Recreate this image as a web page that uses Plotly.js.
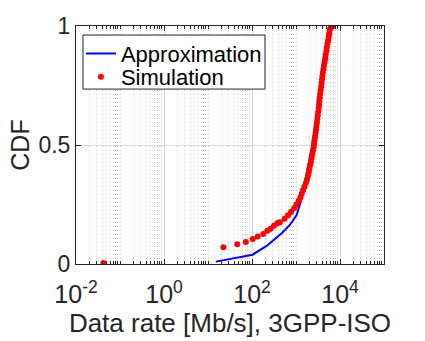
<!DOCTYPE html>
<html>
<head>
<meta charset="utf-8">
<script src="https://cdn.plot.ly/plotly-3.0.1.min.js"></script>
<style>
  html, body { margin: 0; padding: 0; background: #fff; }
  #chart { width: 425px; height: 341px; }
</style>
</head>
<body>
<div id="chart"></div>
<script>
// Approximation curve (blue line): data rate in Mb/s, CDF
const approxRate = [15.1, 103, 214, 473, 724, 1035, 1349, 1585, 1905, 2290, 2818, 3467, 4467, 5248, 5754];
const approxCdf  = [0.01, 0.039, 0.076, 0.129, 0.164, 0.206, 0.276, 0.339, 0.409, 0.49, 0.60, 0.72, 0.85, 0.95, 1.0];

// Simulation samples (red dots)
const simRate = [
    0.042, 22.4, 46.2, 72.4, 104, 135, 181, 223, 266, 316, 376,
    432, 550, 661, 776, 912, 1023, 1148, 1259, 1349, 1445, 1549, 1679, 1778, 1862, 1950,
    2018, 2089, 2188, 2265, 2344, 2427, 2512, 2570, 2630, 2723, 2786, 2851, 2917, 2985,
    3055, 3126, 3199, 3273, 3350, 3388, 3467, 3548, 3631, 3715, 3802, 3890, 3981, 4074,
    4217, 4315, 4467, 4624, 4732, 4898, 5012, 5188, 5370, 5559, 5689, 5888, 6310, 6918
];
const simCdf = [
    0.004, 0.070, 0.083, 0.092, 0.105, 0.116, 0.126, 0.140, 0.148, 0.161, 0.171,
    0.175, 0.19, 0.205, 0.22, 0.235, 0.25, 0.265, 0.28, 0.295, 0.31, 0.325, 0.34, 0.355, 0.37, 0.385,
    0.40, 0.415, 0.43, 0.445, 0.46, 0.475, 0.49, 0.505, 0.52, 0.535, 0.55, 0.565, 0.58, 0.595,
    0.61, 0.625, 0.64, 0.655, 0.67, 0.685, 0.70, 0.715, 0.73, 0.745, 0.76, 0.775, 0.79, 0.805,
    0.82, 0.835, 0.85, 0.865, 0.88, 0.895, 0.91, 0.925, 0.94, 0.955, 0.97, 0.985, 0.995, 1.0
];

const xTickVals = [0.01, 1, 100, 10000];
const xTickText = ['10<sup>-2</sup>', '10<sup>0</sup>', '10<sup>2</sup>', '10<sup>4</sup>'];
const yTickVals = [0, 0.5, 1];
const yTickText = ['0', '0.5', '1'];

// minor log grid: 1..9 x every decade (skip the labelled decades)
const minorVals = [];
for (let e = -2; e < 5; e++) {
    for (let m = 1; m <= 9; m++) {
        if (m === 1 && e % 2 === 0) continue;
        minorVals.push(m * Math.pow(10, e));
    }
}

const ink = '#262626';
const fontFam = 'Liberation Sans, Arial, Helvetica, sans-serif';

const traces = [
    {
        x: approxRate,
        y: approxCdf,
        name: 'Approximation',
        type: 'scatter',
        mode: 'lines',
        line: { color: '#0000ff', width: 2 },
        legend: 'legend'
    },
    {
        x: simRate,
        y: simCdf,
        name: 'Simulation',
        type: 'scatter',
        mode: 'markers',
        marker: { color: '#ff0000', size: 6 },
        legend: 'legend2'
    }
];

// one legend per entry so the row spacing can follow the reference
const legendStyle = (top) => ({
    x: 0.016, y: top, xanchor: 'left', yanchor: 'top',
    bgcolor: 'rgba(0,0,0,0)', borderwidth: 0,
    font: { family: fontFam, size: 22, color: '#000' }
});

const layout = {
    width: 425,
    height: 341,
    margin: { l: 76, r: 41, t: 26, b: 77 },
    paper_bgcolor: '#fff',
    plot_bgcolor: '#fff',
    font: { family: fontFam, size: 22, color: ink },
    showlegend: true,
    legend: legendStyle(0.972),
    legend2: legendStyle(0.874),
    // legend frame (drawn under the legend entries)
    shapes: [{
        type: 'rect', xref: 'paper', yref: 'paper', layer: 'above',
        x0: 0.0227, x1: 0.6136, y0: 0.735, y1: 0.962,
        fillcolor: '#fff', line: { color: ink, width: 1 }
    }],
    xaxis: {
        type: 'log',
        range: [-2, 5],
        tickmode: 'array',
        tickvals: xTickVals,
        ticktext: xTickText,
        tickfont: { size: 25 },
        ticklabelstandoff: 8,
        ticks: 'inside',
        ticklen: 5,
        tickcolor: ink,
        showline: true,
        linecolor: ink,
        linewidth: 1,
        mirror: 'ticks',
        showgrid: true,
        gridcolor: '#dadada',
        zeroline: false,
        minor: {
            tickmode: 'array',
            tickvals: minorVals,
            ticks: 'inside',
            ticklen: 3,
            tickcolor: ink,
            showgrid: true,
            griddash: '1px,3px',
            gridcolor: '#c4c4c4',
            gridwidth: 1
        },
        title: { text: 'Data rate [Mb/s], 3GPP-ISO', font: { size: 26, color: ink }, standoff: 6 }
    },
    yaxis: {
        range: [0, 1],
        tickmode: 'array',
        tickvals: yTickVals,
        ticktext: yTickText,
        tickfont: { size: 23 },
        ticks: 'inside',
        ticklen: 5,
        tickcolor: ink,
        showline: true,
        linecolor: ink,
        linewidth: 1,
        mirror: 'ticks',
        showgrid: true,
        gridcolor: '#dadada',
        zeroline: false,
        title: { text: 'CDF', font: { size: 25, color: ink }, standoff: 1 }
    }
};

Plotly.newPlot('chart', traces, layout, { displayModeBar: false, staticPlot: true });
</script>
</body>
</html>
